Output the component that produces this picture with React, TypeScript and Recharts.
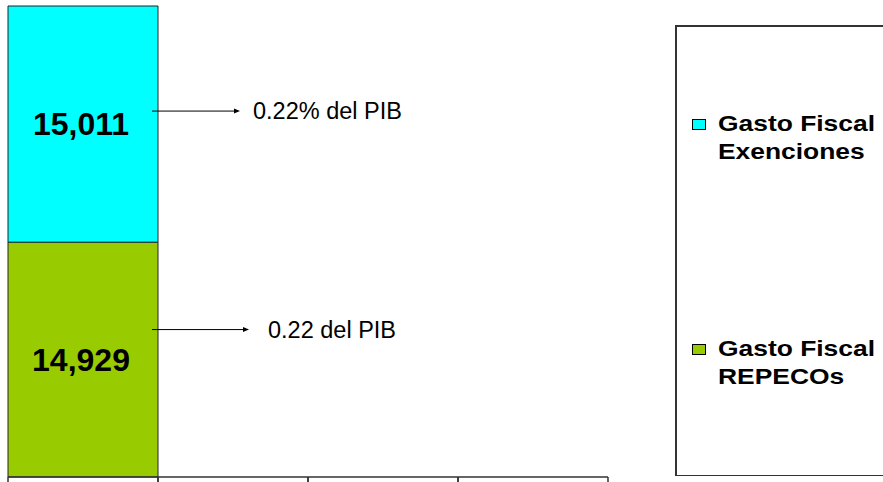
import { BarChart, Bar, XAxis, YAxis, Legend, LabelList } from 'recharts';

// one stacked column in the first of four slots; the rest stay empty
const categories = ['c1', 'c2', 'c3', 'c4'];
const repecos = [14929, null, null, null];
const exenciones = [15011, null, null, null];
const seriesNames = ['Gasto Fiscal REPECOs', 'Gasto Fiscal Exenciones'];
const legendOrder = ['Gasto Fiscal Exenciones', 'Gasto Fiscal REPECOs'];
const notes = ['0.22 del PIB', '0.22% del PIB'];

const data = categories.map((cat, i) => ({
  cat,
  repecos: repecos[i],
  exenciones: exenciones[i],
}));

const FONT = '"Liberation Sans", Arial, Helvetica, sans-serif';

// arrow placement relative to the segment (dy from segment middle)
const arrowStyle = [
  { dy: -30, len: 97, gap: 19 },
  { dy: -13, len: 88, gap: 13 },
];

function makeSegmentLabel(seriesIdx: number) {
  return (props: any) => {
    const { x, y, width, height, value } = props;
    if (value == null) return null;
    const cx = x + width / 2;
    const cy = y + height / 2;
    const a = arrowStyle[seriesIdx];
    const ay = cy + a.dy;
    const x1 = x + width - 6;
    const x2 = x1 + a.len;
    return (
      <g>
        <text
          x={cx - 2}
          y={cy}
          textAnchor="middle"
          dominantBaseline="central"
          fontFamily={FONT}
          fontWeight="bold"
          fontSize={32}
          fill="#000"
        >
          {Number(value).toLocaleString('en-US')}
        </text>
        <line x1={x1} y1={ay} x2={x2 - 5} y2={ay} stroke="#000" strokeWidth={1} />
        <polygon points={`${x2},${ay} ${x2 - 6},${ay - 2.5} ${x2 - 6},${ay + 2.5}`} fill="#000" />
        <text
          x={x2 + a.gap}
          y={ay}
          dominantBaseline="central"
          fontFamily={FONT}
          fontSize={23.5}
          fill="#000"
        >
          {notes[seriesIdx]}
        </text>
      </g>
    );
  };
}

function BoundaryTick(props: any) {
  const { x, y, payload } = props;
  const off = payload && payload.offset ? payload.offset : 75;
  return (
    <g>
      <line x1={x - off} y1={y} x2={x - off} y2={y + 5} stroke="#333" strokeWidth={1.5} />
      <line x1={x + off} y1={y} x2={x + off} y2={y + 5} stroke="#333" strokeWidth={1.5} />
    </g>
  );
}

function LegendBox(props: any) {
  const items = [...(props.payload || [])].sort(
    (a: any, b: any) => legendOrder.indexOf(a.value) - legendOrder.indexOf(b.value)
  );
  return (
    <div
      style={{
        position: 'relative',
        width: 208,
        height: 451,
        boxSizing: 'border-box',
        display: 'flex',
        flexDirection: 'column',
        justifyContent: 'space-around',
        fontFamily: FONT,
      }}
    >
      {/* frame drawn as three separate edges; the right one runs off the page */}
      <div style={{ position: 'absolute', left: 0, top: 0, width: 1.5, height: 451, background: '#333' }} />
      <div style={{ position: 'absolute', left: 0, top: 0, width: 208, height: 1.5, background: '#333' }} />
      <div style={{ position: 'absolute', left: 0, bottom: 0, width: 208, height: 1.5, background: '#333' }} />
      {items.map((it: any) => (
        <div key={it.value} style={{ display: 'flex', alignItems: 'flex-start', paddingLeft: 17 }}>
          <span
            style={{
              display: 'inline-block',
              width: 12,
              height: 9,
              background: it.color,
              border: '1px solid #000',
              marginTop: 9,
              marginRight: 12,
              flex: 'none',
            }}
          />
          <span
            style={{
              display: 'inline-block',
              fontWeight: 'bold',
              fontSize: 22,
              lineHeight: '28px',
              width: 140,
              color: '#000',
              transform: 'scaleX(1.2)',
              transformOrigin: 'left center',
              whiteSpace: 'normal',
            }}
          >
            {it.value}
          </span>
        </div>
      ))}
    </div>
  );
}

export default function App() {
  return (
    <div
      style={{
        position: 'absolute',
        left: 0,
        top: 0,
        width: 883,
        height: 482,
        overflow: 'hidden',
        background: '#fff',
      }}
    >
      <BarChart
        width={883}
        height={482}
        data={data}
        margin={{ top: 6, right: 275, bottom: 0, left: 8 }}
        barCategoryGap={0}
        barGap={0}
      >
        <XAxis
          dataKey="cat"
          height={5}
          axisLine={{ stroke: '#333', strokeWidth: 1.5 }}
          tickLine={false}
          tickSize={0}
          tickMargin={0}
          tick={<BoundaryTick />}
          interval={0}
        />
        <XAxis
          xAxisId="top"
          dataKey="cat"
          orientation="top"
          height={0}
          axisLine={{ stroke: '#333', strokeWidth: 1.5 }}
          tickLine={false}
          tick={false}
        />
        <YAxis
          width={0}
          domain={[0, 'dataMax']}
          axisLine={{ stroke: '#333', strokeWidth: 1.5 }}
          tickLine={false}
          tick={false}
        />
        <YAxis
          yAxisId="right"
          orientation="right"
          width={0}
          axisLine={{ stroke: '#333', strokeWidth: 1.5 }}
          tickLine={false}
          tick={false}
        />
        <Legend
          layout="horizontal"
          align="center"
          verticalAlign="middle"
          wrapperStyle={{ left: 675, top: 25, width: 208, height: 451 }}
          content={<LegendBox />}
        />
        <Bar
          dataKey="repecos"
          name={seriesNames[0]}
          stackId="a"
          fill="#99CC00"
          stroke="#222"
          strokeWidth={1}
          isAnimationActive={false}
        >
          <LabelList dataKey="repecos" content={makeSegmentLabel(0)} />
        </Bar>
        <Bar
          dataKey="exenciones"
          name={seriesNames[1]}
          stackId="a"
          fill="#00FFFF"
          stroke="#222"
          strokeWidth={1}
          isAnimationActive={false}
        >
          <LabelList dataKey="exenciones" content={makeSegmentLabel(1)} />
        </Bar>
      </BarChart>
    </div>
  );
}
